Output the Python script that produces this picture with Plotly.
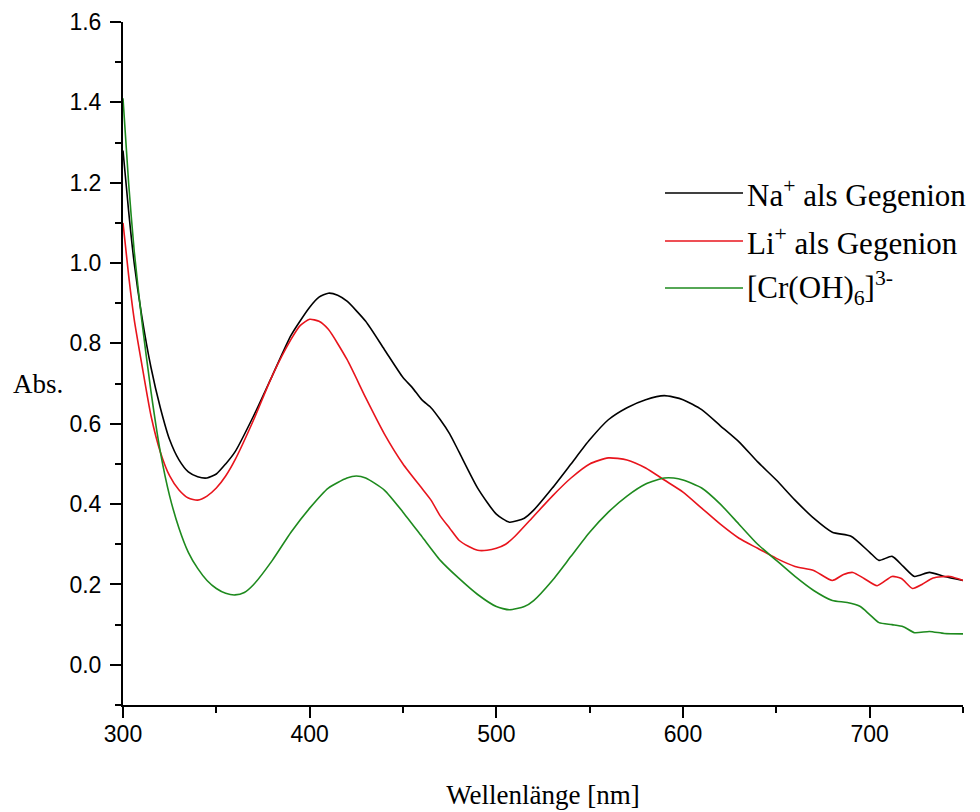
import plotly.graph_objects as go

# ---- data ----
wl_na = [300, 303, 306, 310, 315, 320, 325, 330, 335, 340, 345, 350, 355, 360, 370, 380, 390, 400, 405, 410,
         415, 420, 430, 440, 450, 455, 460, 465, 470, 475, 480, 490, 500, 507, 515, 520, 530, 540, 550, 560,
         570, 580, 590, 600, 610, 620, 630, 640, 650, 660, 670, 680, 690, 700, 705, 712, 718, 724, 732, 740, 750]
abs_na = [1.28, 1.13, 1.00, 0.87, 0.74, 0.64, 0.56, 0.51, 0.48, 0.468, 0.465, 0.475, 0.50, 0.53, 0.62, 0.72, 0.82, 0.89, 0.915, 0.925,
          0.92, 0.905, 0.855, 0.785, 0.715, 0.69, 0.66, 0.64, 0.61, 0.575, 0.53, 0.44, 0.375, 0.355, 0.365, 0.385, 0.44, 0.50, 0.56, 0.61,
          0.64, 0.66, 0.67, 0.66, 0.635, 0.595, 0.555, 0.505, 0.46, 0.41, 0.365, 0.33, 0.32, 0.28, 0.26, 0.27, 0.245, 0.22, 0.23, 0.22, 0.21]

wl_li = [300, 303, 306, 310, 315, 320, 325, 330, 335, 340, 345, 350, 355, 360, 370, 380, 390, 395, 400, 405,
         410, 420, 430, 440, 450, 460, 465, 470, 475, 480, 485, 490, 495, 500, 505, 510, 520, 530, 540, 550,
         560, 570, 580, 590, 600, 610, 620, 630, 640, 650, 660, 670, 680, 686, 691, 697, 704, 712, 717, 723,
         728, 734, 743, 750]
abs_li = [1.10, 0.97, 0.86, 0.75, 0.62, 0.53, 0.47, 0.435, 0.415, 0.41, 0.42, 0.44, 0.47, 0.51, 0.61, 0.72, 0.81, 0.845, 0.86, 0.855,
          0.835, 0.76, 0.665, 0.575, 0.50, 0.44, 0.41, 0.37, 0.34, 0.31, 0.295, 0.285, 0.285, 0.29, 0.30, 0.32, 0.37, 0.42, 0.465, 0.50,
          0.515, 0.51, 0.49, 0.46, 0.43, 0.39, 0.35, 0.315, 0.29, 0.265, 0.245, 0.235, 0.21, 0.225, 0.23, 0.215, 0.197, 0.22, 0.215, 0.19,
          0.20, 0.216, 0.22, 0.21]

wl_cr = [300, 303, 306, 310, 315, 320, 325, 330, 335, 340, 345, 350, 355, 360, 365, 370, 380, 390, 400, 410,
         420, 425, 430, 440, 450, 460, 470, 480, 490, 500, 507, 515, 520, 530, 540, 550, 560, 570, 580, 590,
         595, 600, 610, 620, 630, 640, 650, 660, 670, 680, 688, 695, 700, 705, 712, 718, 724, 732, 740, 750]
abs_cr = [1.41, 1.20, 1.03, 0.86, 0.68, 0.53, 0.42, 0.34, 0.28, 0.24, 0.21, 0.19, 0.178, 0.174, 0.18, 0.20, 0.26, 0.33, 0.39, 0.44,
          0.465, 0.47, 0.465, 0.435, 0.38, 0.32, 0.26, 0.215, 0.175, 0.145, 0.137, 0.145, 0.16, 0.21, 0.27, 0.33, 0.38, 0.42, 0.45, 0.465,
          0.465, 0.46, 0.44, 0.40, 0.35, 0.30, 0.26, 0.22, 0.185, 0.16, 0.155, 0.145, 0.125, 0.105, 0.10, 0.095, 0.08, 0.083, 0.078, 0.077]

series_names = ["Na<sup>+</sup> als Gegenion", "Li<sup>+</sup> als Gegenion", "[Cr(OH)<sub>6</sub>]<sup>3-</sup>"]
series_colors = ["#000000", "#e8141c", "#1e8a1e"]

x_tick_vals = [300, 400, 500, 600, 700]
y_tick_vals = [0.0, 0.2, 0.4, 0.6, 0.8, 1.0, 1.2, 1.4, 1.6]

# ---- figure ----
fig = go.Figure()
for wl, ab, name, col in zip([wl_na, wl_li, wl_cr], [abs_na, abs_li, abs_cr], series_names, series_colors):
    fig.add_trace(go.Scatter(x=wl, y=ab, mode="lines", name=name, showlegend=False,
                             line=dict(color=col, width=1.6, shape="spline", smoothing=0.6)))

W, H = 980, 812
ml, mr, mt, mb = 123, 17, 22, 107
pw, ph = W - ml - mr, H - mt - mb

def px_x(p):
    return (p - ml) / pw

def px_y(p):
    return (H - mb - p) / ph

# custom legend (long line samples like the original)
leg_rows = [193, 241, 288]
for name, col, ry in zip(series_names, series_colors, leg_rows):
    fig.add_shape(type="line", xref="paper", yref="paper",
                  x0=px_x(665), x1=px_x(743), y0=px_y(ry), y1=px_y(ry),
                  line=dict(color=col, width=1.6))
    fig.add_annotation(xref="paper", yref="paper", x=px_x(745), y=px_y(ry),
                       text=name, showarrow=False, xanchor="left", yanchor="middle",
                       font=dict(family="Liberation Serif", size=31, color="black"))

# y-axis title (horizontal, like the original)
fig.add_annotation(xref="paper", yref="y", x=px_x(38), y=0.70, text="Abs.", showarrow=False,
                   xanchor="center", yanchor="middle",
                   font=dict(family="Liberation Serif", size=27, color="black"))

axis_common = dict(showgrid=False, zeroline=False, showline=True, linecolor="black", linewidth=2,
                   ticks="outside", ticklen=11, tickwidth=2, tickcolor="black",
                   tickfont=dict(family="Liberation Sans", size=23, color="black"),
                   minor=dict(ticks="outside", ticklen=6, tickwidth=2, tickcolor="black"))

fig.update_xaxes(range=[300, 750], tickvals=x_tick_vals, ticktext=[str(v) for v in x_tick_vals],
                 minor_dtick=50, minor_tick0=300,
                 title=dict(text="Wellenlänge [nm]", font=dict(family="Liberation Serif", size=27, color="black"),
                            standoff=40),
                 ticklabelstandoff=-4, **axis_common)
fig.update_yaxes(range=[-0.1, 1.6], tickvals=y_tick_vals, ticktext=[f"{v:.1f}" for v in y_tick_vals],
                 minor_dtick=0.1, minor_tick0=0.0, ticklabelstandoff=4, **axis_common)

fig.update_layout(width=W, height=H, margin=dict(l=ml, r=mr, t=mt, b=mb, autoexpand=False),
                  plot_bgcolor="white", paper_bgcolor="white", showlegend=False)

fig.write_html("out.html")
